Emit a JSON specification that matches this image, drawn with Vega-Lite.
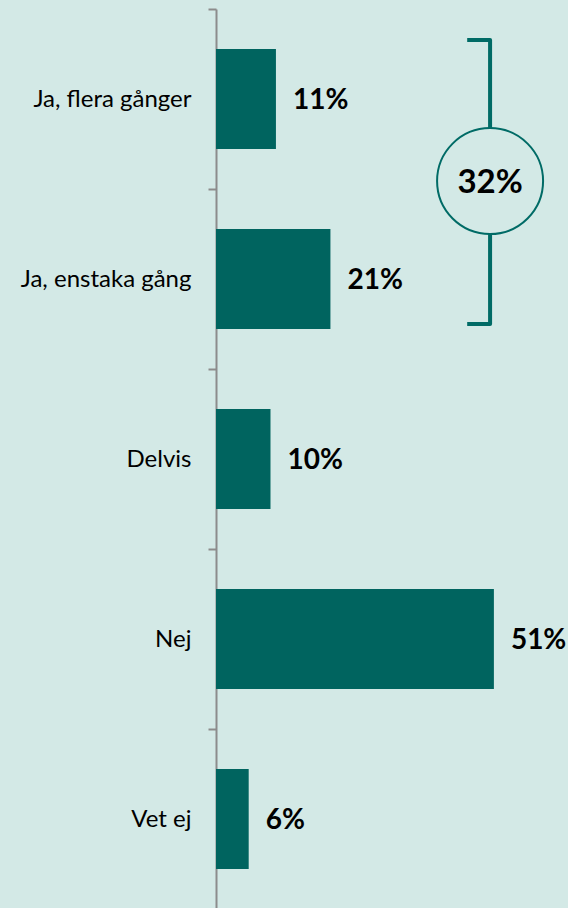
{
  "$schema": "https://vega.github.io/schema/vega-lite/v6.json",
  "width": 352,
  "height": 900,
  "autosize": {"type": "none"},
  "padding": {"left": 216, "top": 9, "right": 0, "bottom": 0},
  "background": "#d3e9e6",
  "config": {"view": {"stroke": null}, "font": "Lato"},
  "layer": [
    {
      "data": {"values": [
        {"category": "Ja, flera gånger", "value": 11, "label": "11%"},
        {"category": "Ja, enstaka gång", "value": 21, "label": "21%"},
        {"category": "Delvis", "value": 10, "label": "10%"},
        {"category": "Nej", "value": 51, "label": "51%"},
        {"category": "Vet ej", "value": 6, "label": "6%"}
      ]},
      "encoding": {
        "y": {
          "field": "category", "type": "nominal", "sort": null,
          "scale": {"paddingInner": 0, "paddingOuter": 0},
          "axis": {
            "title": null, "domainColor": "#8c8c8c", "domainWidth": 2,
            "tickColor": "#8c8c8c", "tickWidth": 2, "tickSize": 8, "tickBand": "extent",
            "labelFontSize": 24, "labelColor": "#000000", "labelPadding": 17,
            "labelFont": "Lato", "labelLimit": 300
          }
        },
        "x": {"field": "value", "type": "quantitative", "scale": {"domain": [0, 64.6], "nice": false}, "axis": null}
      },
      "layer": [
        {"mark": {"type": "bar", "color": "#00645f", "height": {"band": 0.556}}},
        {"mark": {"type": "text", "align": "left", "baseline": "middle", "dx": 17, "dy": 2, "fontWeight": "bold", "fontSize": 28, "color": "#000000"},
         "encoding": {"text": {"field": "label"}}}
      ]
    },
    {
      "layer": [
        {
          "data": {"values": [
            {"x": 46.1, "p": 0.172, "o": 0},
            {"x": 50.3, "p": 0.172, "o": 1},
            {"x": 50.3, "p": 1.75, "o": 2},
            {"x": 46.1, "p": 1.75, "o": 3}
          ]},
          "mark": {"type": "line", "color": "#006b66", "strokeWidth": 4, "strokeJoin": "round"},
          "encoding": {
            "x": {"field": "x", "type": "quantitative"},
            "y": {"field": "p", "type": "quantitative", "scale": {"domain": [0, 5], "reverse": true, "nice": false, "zero": false}, "axis": null},
            "order": {"field": "o"}
          }
        },
        {
          "data": {"values": [{"x": 50.3, "p": 0.956, "label": "32%"}]},
          "encoding": {
            "x": {"field": "x", "type": "quantitative"},
            "y": {"field": "p", "type": "quantitative", "scale": {"domain": [0, 5], "reverse": true, "nice": false, "zero": false}, "axis": null}
          },
          "layer": [
            {"mark": {"type": "point", "shape": "circle", "filled": false, "fill": "#d3e9e6", "fillOpacity": 1, "stroke": "#006b66", "strokeWidth": 2, "size": 11236, "opacity": 1}},
            {"mark": {"type": "text", "align": "center", "baseline": "middle", "dy": 2, "fontWeight": "bold", "fontSize": 33, "color": "#000000"},
             "encoding": {"text": {"field": "label"}}}
          ]
        }
      ]
    }
  ],
  "resolve": {"scale": {"y": "independent"}}
}
